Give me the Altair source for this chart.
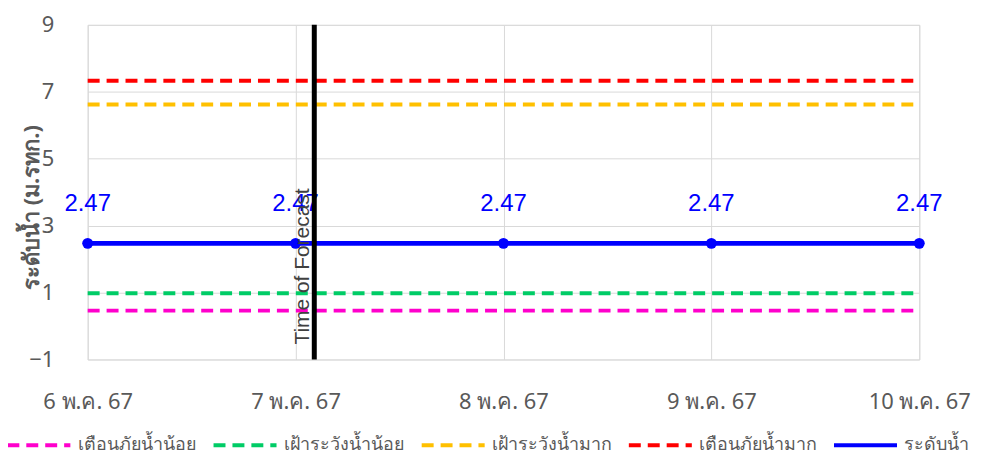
import json
import altair as alt
import pandas as pd

dates = ["6 พ.ค. 67", "7 พ.ค. 67", "8 พ.ค. 67", "9 พ.ค. 67", "10 พ.ค. 67"]
series_names = ["เตือนภัยน้ำน้อย", "เฝ้าระวังน้ำน้อย", "เฝ้าระวังน้ำมาก", "เตือนภัยน้ำมาก", "ระดับน้ำ"]
low_warning = [0.46, 0.46, 0.46, 0.46, 0.46]
low_watch = [0.98, 0.98, 0.98, 0.98, 0.98]
high_watch = [6.62, 6.62, 6.62, 6.62, 6.62]
high_warning = [7.33, 7.33, 7.33, 7.33, 7.33]
water_level = [2.47, 2.47, 2.47, 2.47, 2.47]
series_colors = ["#FF00CC", "#00CC66", "#FFC000", "#FF0000", "#0000FF"]
forecast_pos = [1.09]
forecast_label = ["Time of Forecast"]
y_ticks = [-1, 1, 3, 5, 7, 9]

rows = []
for name, vals in zip(series_names, [low_warning, low_watch, high_watch, high_warning, water_level]):
    for i, v in enumerate(vals):
        rows.append({"idx": i, "series": name, "value": v})
df = pd.DataFrame(rows)
df_level = df[df["series"] == series_names[4]]
df_thr = df[df["series"] != series_names[4]]
df_fc = pd.DataFrame({"pos": forecast_pos, "label": forecast_label, "y": [-1]})

TH_FONT = "Noto Sans"
GRAY = "#595959"

label_expr = json.dumps(dates, ensure_ascii=False) + "[datum.value]"

x_enc = alt.X("idx:Q", scale=alt.Scale(domain=[0, 4], nice=False, zero=False),
              axis=alt.Axis(values=list(range(len(dates))), labelExpr=label_expr,
                            grid=True, gridColor="#d9d9d9", ticks=False, domain=False,
                            labelFlush=False, labelBound=False, labelOverlap=False,
                            labelPadding=32, labelFontSize=22, labelColor=GRAY,
                            labelFont=TH_FONT, title=None))
y_enc = alt.Y("value:Q", scale=alt.Scale(domain=[-1, 9], nice=False, zero=False),
              axis=alt.Axis(values=y_ticks, grid=True, gridColor="#d9d9d9", ticks=False,
                            domain=False, labelPadding=34, labelFontSize=22, labelColor=GRAY,
                            labelFont=TH_FONT, labelFlush=False, labelBound=False,
                            title="ระดับน้ำ (ม.รทก.)", titleFont=TH_FONT,
                            titleFontSize=22, titleFontWeight="bold", titleColor=GRAY,
                            titleX=-44, titleY=183, titleAngle=270, titleBaseline="bottom",
                            titleAlign="center"))

color_enc = alt.Color("series:N", scale=alt.Scale(domain=series_names, range=series_colors),
                      sort=series_names,
                      legend=alt.Legend(title=None, orient="none", direction="horizontal",
                                        legendX=-83, legendY=388, symbolType="stroke",
                                        symbolSize=4000, symbolStrokeWidth=4,
                                        labelFontSize=18, labelColor=GRAY, labelFont=TH_FONT,
                                        columnPadding=8, labelOffset=5, padding=0,
                                        labelLimit=300, labelBaseline="middle"))
dash_enc = alt.StrokeDash("series:N",
                          scale=alt.Scale(domain=series_names,
                                          range=[[12, 7], [12, 7], [12, 7], [12, 7], [1, 0]]),
                          sort=series_names, legend=None)

thr = alt.Chart(df_thr).mark_line(strokeWidth=4).encode(x=x_enc, y=y_enc, color=color_enc, strokeDash=dash_enc)
lvl = alt.Chart(df_level).mark_line(strokeWidth=5).encode(x="idx:Q", y="value:Q", color=color_enc, strokeDash=dash_enc)
pts = alt.Chart(df_level).mark_point(filled=True, size=120, opacity=1, color="#0000FF").encode(x="idx:Q", y="value:Q")
lbl = alt.Chart(df_level).mark_text(fontSize=24, color="#0000FF", font="Liberation Sans", dy=-40).encode(
    x="idx:Q", y="value:Q", text=alt.Text("value:Q", format=".2f"))
rule = alt.Chart(df_fc).mark_rule(strokeWidth=5, color="black").encode(x="pos:Q")
fc_text = alt.Chart(df_fc).mark_text(angle=270, align="left", baseline="bottom", fontSize=21,
                                     color="#404040", font="Liberation Sans", dx=15, dy=-1).encode(
    x="pos:Q", y="y:Q", text="label:N")

chart = alt.layer(thr, lvl, pts, lbl, rule, fc_text).properties(
    width=835, height=336,
    autosize=alt.AutoSizeParams(type="none"),
    padding={"left": 80, "top": 16, "right": 66, "bottom": 99},
).configure_view(strokeWidth=0).configure(background="white")

chart.save("out.html", embed_options={"renderer": "svg", "actions": False})
